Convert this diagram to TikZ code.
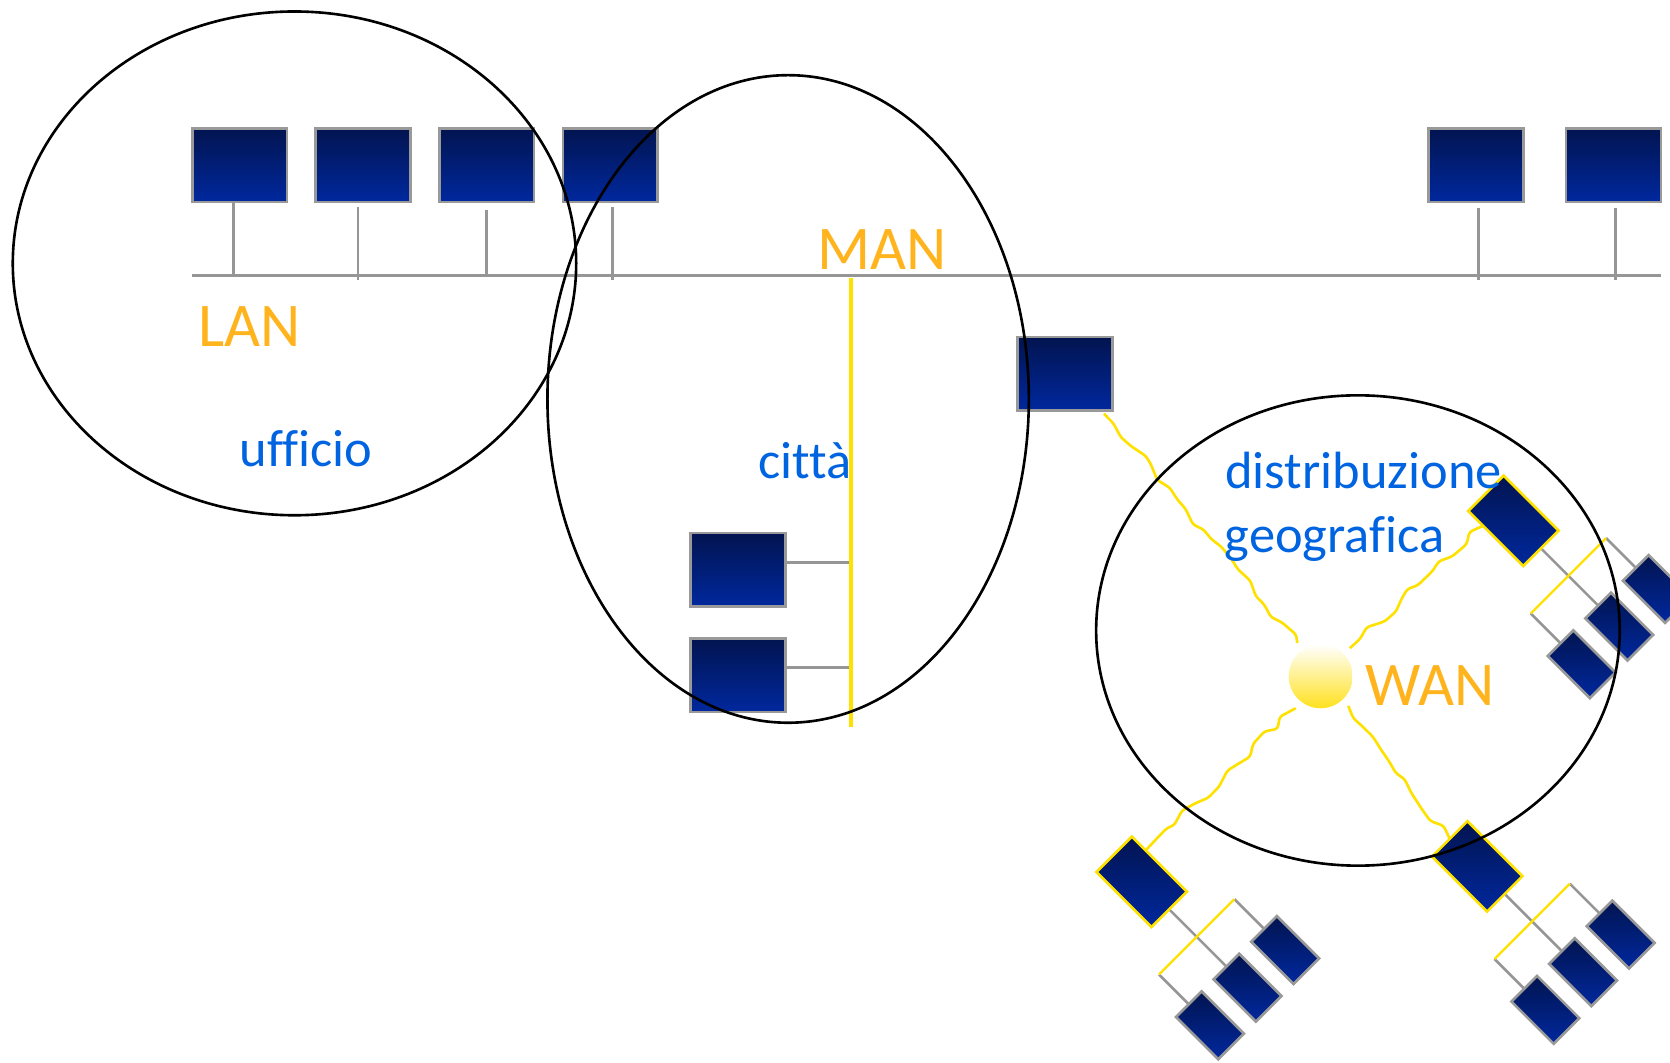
\documentclass[tikz,border=0pt]{standalone}
\usepackage{fontspec}
\setmainfont{Carlito}[Ligatures=NoCommon]
\usetikzlibrary{calc,decorations.pathmorphing}
\definecolor{navytop}{RGB}{2,20,80}
\definecolor{navybot}{RGB}{0,40,158}
\definecolor{boxgray}{RGB}{153,153,153}
\definecolor{linegray}{RGB}{150,150,150}
\definecolor{wireyellow}{RGB}{255,225,0}
\definecolor{labelorange}{RGB}{255,180,30}
\definecolor{labelblue}{RGB}{0,100,225}
\definecolor{sunyellow}{RGB}{255,225,30}
\newcommand{\shadebox}[2]{\shade[top color=navytop,bottom color=navybot,draw=#2,line width=0.7pt] (#1.north west) -- (#1.north east) -- (#1.south east) -- (#1.south west) -- cycle;}
\begin{document}
\begin{tikzpicture}[x=0.01cm,y=-0.01cm,
  pc/.style={draw=boxgray,line width=0.7pt,top color=navytop,bottom color=navybot,minimum width=0.89cm,minimum height=0.69cm,inner sep=0pt,outer sep=0pt},
  gwbox/.style={inner sep=0pt,outer sep=0pt,minimum width=0.73cm,minimum height=0.47cm},
  lilbox/.style={inner sep=0pt,outer sep=0pt,minimum width=0.56cm,minimum height=0.34cm},
  wire/.style={draw=linegray,line width=0.7pt},
  lanbus/.style={draw=linegray,line width=0.8pt},
  ybus/.style={draw=wireyellow,line width=0.9pt},
  ywire/.style={draw=wireyellow,line width=0.6pt},
  radio/.style={draw=wireyellow,line width=0.7pt,rounded corners=0.8pt,decorate,decoration={random steps,segment length=0.13cm,amplitude=0.045cm}},
  zone/.style={draw=black,line width=0.7pt},
  orangelabel/.style={text=labelorange,font=\fontsize{16.6}{20}\selectfont,inner sep=0pt,anchor=base},
  bluelabel/.style={text=labelblue,font=\fontsize{14}{17}\selectfont,inner sep=0pt,anchor=base}]
\useasboundingbox (0,0) rectangle (1568,998);
\clip (0,0) rectangle (1568,998);
\pgfmathsetseed{7}

% LAN / MAN backbone
\coordinate (busL) at (180,259);
\coordinate (busR) at (1560,259);
\coordinate (t1) at (219,259);
\coordinate (t2) at (336,259);
\coordinate (t3) at (457,259);
\coordinate (t4) at (575,259);
\coordinate (t5) at (1388,259);
\coordinate (t6) at (1517,259);
\node[pc] (b1) at (225,155) {};
\node[pc] (b2) at (341,155) {};
\node[pc] (b3) at (457,155) {};
\node[pc] (b4) at (573,155) {};
\node[pc] (b5) at (1386,155) {};
\node[pc] (b6) at (1515,155) {};
\draw[wire] (t1 |- b1.south) -- (t1);
\draw[wire] ($(t2 |- b2.south)+(0,5)$) -- ($(t2)+(0,4)$);
\draw[wire] ($(t3 |- b3.south)+(0,8)$) -- (t3);
\draw[wire] ($(t4 |- b4.south)+(0,5)$) -- ($(t4)+(0,4)$);
\draw[wire] ($(t5 |- b5.south)+(0,6)$) -- ($(t5)+(0,4)$);
\draw[wire] ($(t6 |- b6.south)+(0,6)$) -- ($(t6)+(0,4)$);
\draw[lanbus] (busL) -- (busR);

% city
\coordinate (mtop) at (799,261);
\coordinate (mbot) at (799,683);
\node[pc] (c1) at (693,535) {};
\node[pc] (c2) at (693,634) {};
\coordinate (s1) at ($(c1.east)+(0,-7)$);
\coordinate (s2) at ($(c2.east)+(0,-7)$);
\draw[wire] (s1) -- (s1 -| mtop);
\draw[wire] (s2) -- (s2 -| mtop);
\draw[ybus] (mtop) -- (mbot);

% MAN router
\node[pc] (m) at (1000,351) {};

% WAN
\node[circle,minimum size=0.6cm,inner sep=0pt,outer sep=0.08cm,top color=white,bottom color=sunyellow] (sun) at (1240,635) {};

\begin{scope}[shift={(1421,489)},rotate=-45,transform shape]
 \node[gwbox] (ne) at (0,0) {};
 \node[lilbox] (nea) at (140.5,50) {};
 \node[lilbox] (neb) at (140.5,0) {};
 \node[lilbox] (nec) at (140.5,-50) {};
 \coordinate (neya) at (73,50);
 \coordinate (neyc) at (73,-50);
\end{scope}
\begin{scope}[shift={(1072,828)},rotate=-45,transform shape]
 \node[gwbox] (sw) at (0,0) {};
 \node[lilbox] (swa) at (140.5,50) {};
 \node[lilbox] (swb) at (140.5,0) {};
 \node[lilbox] (swc) at (140.5,-50) {};
 \coordinate (swya) at (73,50);
 \coordinate (swyc) at (73,-50);
\end{scope}
\begin{scope}[shift={(1387,813.5)},rotate=-45,transform shape]
 \node[gwbox] (se) at (0,0) {};
 \node[lilbox] (sea) at (140.5,50) {};
 \node[lilbox] (seb) at (140.5,0) {};
 \node[lilbox] (sec) at (140.5,-50) {};
 \coordinate (seya) at (73,50);
 \coordinate (seyc) at (73,-50);
\end{scope}

\coordinate (mz) at ($(m.south east)+(-8,3)$);
\draw[radio] (mz) -- (sun.125);
\draw[radio] (sun.44) -- ($(ne.south west)!0.54!(ne.south)$);
\draw[radio] (sun.232) -- ($(sw.north west)!0.5!(sw.north)$);
\draw[radio] (sun.313) -- (se.west);

\foreach \g in {ne,sw,se}{
  \draw[wire] (\g.east) -- (\g b.west);
  \draw[wire] (\g ya) -- (\g a.west);
  \draw[wire] (\g yc) -- (\g c.west);
  \draw[ywire] (\g ya) -- (\g yc);
  \shadebox{\g}{wireyellow}
  \shadebox{\g a}{boxgray}
  \shadebox{\g b}{boxgray}
  \shadebox{\g c}{boxgray}
}

% zones
\draw[zone] (276.5,247.3) ellipse [x radius=264.5, y radius=236.5];
\draw[zone] (740,374.6) ellipse [x radius=226, y radius=304];
\draw[zone] (1275,592) ellipse [x radius=245.8, y radius=220.8];

% labels
\node[orangelabel] (lan) at (234,325) {LAN};
\node[orangelabel] (man) at (828.5,253.5) {MAN};
\node[orangelabel] (wan) at (1342.7,662) {WAN};
\node[bluelabel] (uff) at (287.5,438) {ufficio};
\node[bluelabel] (cit) at (756,449) {città};
\node[bluelabel] (dis) at (1280.4,459) {distribuzione};
\node[bluelabel] (geo) at (1253,518.3) {geografica};
\end{tikzpicture}
\end{document}
